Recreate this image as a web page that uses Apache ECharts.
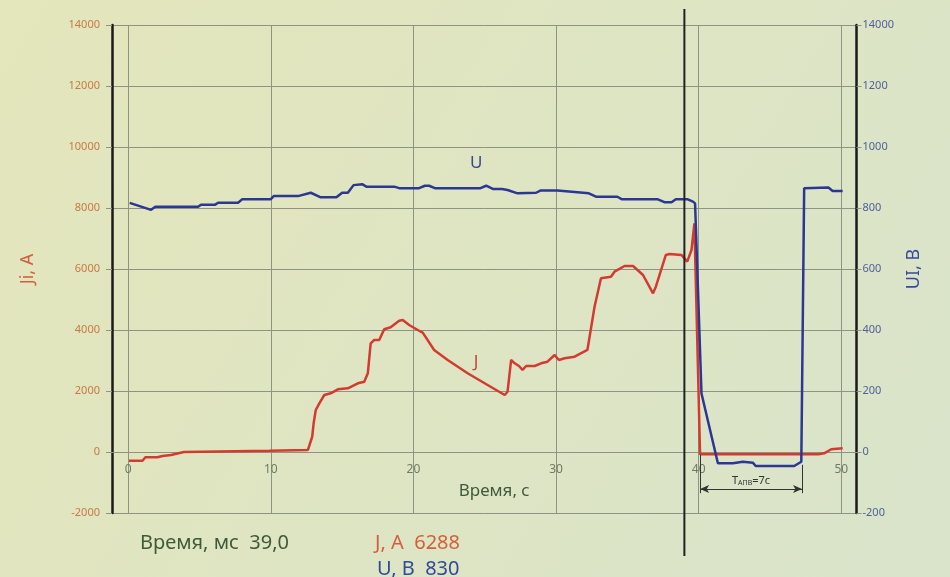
<!DOCTYPE html>
<html><head><meta charset="utf-8">
<script src="https://cdn.jsdelivr.net/npm/echarts@6/dist/echarts.min.js"></script>
<style>html,body{margin:0;padding:0;background:#dfe6c6}#c{width:950px;height:577px}</style>
</head><body><div id="c"></div>
<script>
// ---- data ----
const timeJ = [0.05,1.0,1.2,2.05,2.4,3.0,3.9,4.0,9.9,12.6,12.9,13.0,13.15,13.4,13.75,14.2,14.7,15.4,16.1,16.55,16.8,17.0,17.25,17.6,17.95,18.4,19.0,19.25,19.7,20.3,20.65,21.45,22.4,23.8,25.2,26.4,26.6,26.85,27.1,27.4,27.65,27.9,28.5,28.95,29.4,29.9,30.2,30.6,31.3,32.2,32.7,33.15,33.85,34.1,34.8,35.4,36.1,36.8,37.0,37.7,37.95,38.8,39.2,39.5,39.7,40.1,48.4,48.8,49.3,50.1];
const valuesJ = [-285,-285,-174,-174,-131,-98,0,43,43,66,500,941,1377,1597,1869,1925,2056,2089,2253,2305,2581,3564,3672,3672,4023,4089,4305,4328,4164,4000,3912,3345,3017,2581,2197,1869,1977,3017,2908,2820,2689,2820,2820,2908,2961,3181,3017,3072,3125,3345,4764,5696,5748,5912,6099,6099,5804,5204,5420,6460,6493,6460,6240,6624,7499,-75,-75,-43,89,121];
const timeU = [0.1,1.6,1.9,4.9,5.1,6.1,6.3,7.7,8.0,10.0,10.2,11.9,12.8,13.5,14.6,15.0,15.4,15.8,16.4,16.7,18.65,19.0,20.4,20.8,21.1,21.5,24.7,25.1,25.6,26.2,26.6,27.3,28.6,28.9,30.1,32.3,32.8,34.3,34.6,36.8,36.9,37.1,37.6,38.1,38.4,39.2,39.6,39.75,40.2,41.35,42.4,43.1,43.8,44.0,46.7,47.2,47.4,49.1,49.4,50.1];
const valuesU = [817,794,804,804,811,811,817,817,829,829,839,839,850,835,835,850,850,875,878,870,870,865,865,873,873,865,865,873,862,862,859,848,850,857,857,848,837,837,829,829,835,829,819,819,829,829,821,815,192,-37,-37,-32,-35,-46,-46,-32,865,867,856,856];
const xTicks = [0,10,20,30,40,50];
const leftTickLabels = ['-2000','0','2000','4000','6000','8000','10000','12000','14000'];
const rightTickLabels = ['-200','0','200','400','600','800','1000','1200','14000'];
const cursorTime = 39.0;
const cursorJ = '6288';
const cursorU = '830';
const cursorTimeText = '39,0';
const apvStart = 40.1, apvEnd = 47.25, apvText = '7с';

const dataJ = timeJ.map((t,i)=>[t, valuesJ[i]]);
const dataU = timeU.map((t,i)=>[t, valuesU[i]]);

const jMin = -2000, jMax = 14000;
const gridTop = 25, gridBottom = 64, H = 577;
const gridH = H - gridTop - gridBottom;
const zeroOffset = -gridH * (0 - jMin) / (jMax - jMin); // lift x axis to J = 0

const gridC = '#8d9484';
const FF = 'Noto Sans';
const chart = echarts.init(document.getElementById('c'), null, {renderer:'canvas'});
const option = {
  animation: false,
  backgroundColor: {type:'linear', x:0, y:0, x2:1, y2:1, colorStops:[{offset:0,color:'#e4e6bb'},{offset:1,color:'#d9e4cb'}]},
  grid: {left:112, right:93.5, top:gridTop, bottom:gridBottom, containLabel:false},
  xAxis: {
    type:'value', min:-1.14, max:51.07, offset: zeroOffset,
    axisLine:{show:true, onZero:false, lineStyle:{color:gridC, width:1}},
    axisTick:{show:false, customValues:xTicks},
    axisLabel:{customValues:xTicks, color:'#6f7b62', fontSize:12, margin:12, fontFamily:FF},
    splitLine:{show:true, lineStyle:{color:gridC, width:1}},
    name:'Время, с', nameLocation:'middle', nameGap:31,
    nameTextStyle:{color:'#3f5a3a', fontSize:17, fontFamily:FF, padding:[0,0,0,20]}
  },
  yAxis: [
    {type:'value', min:jMin, max:jMax, interval:2000, position:'left',
     axisLine:{show:true, onZero:false, lineStyle:{color:'#1a1a1a', width:2.5}},
     axisTick:{show:true, length:6, lineStyle:{color:gridC}},
     axisLabel:{color:'#c67a48', fontSize:11, margin:12, fontFamily:FF,
       formatter:(v)=>leftTickLabels[Math.round((v+2000)/2000)]},
     splitLine:{show:true, lineStyle:{color:gridC, width:1}},
     name:'Ji, A', nameLocation:'middle', nameGap:75,
     nameTextStyle:{color:'#d0603a', fontSize:18, fontFamily:FF}},
    {type:'value', min:-200, max:1400, interval:200, position:'right',
     axisLine:{show:true, onZero:false, lineStyle:{color:'#1a1a1a', width:2.5}},
     axisTick:{show:true, length:5, lineStyle:{color:gridC}},
     axisLabel:{color:'#52609a', fontSize:11, margin:6, fontFamily:FF,
       formatter:(v)=>rightTickLabels[Math.round((v+200)/200)]},
     splitLine:{show:false},
     name:'UI, В', nameLocation:'middle', nameGap:46,
     nameTextStyle:{color:'#3a4a9a', fontSize:18, fontFamily:FF}}
  ],
  series: [
    {name:'J', type:'line', yAxisIndex:0, data:dataJ, showSymbol:false, symbol:'none',
     lineStyle:{color:'#d33a30', width:2.5}, z:3,
     markLine:{silent:true, symbol:['none','none'], animation:false, label:{show:false},
       lineStyle:{color:'#333', width:1, type:'solid'},
       data:[
         [{coord:[apvStart,-90]},{coord:[apvStart,-1350]}],
         [{coord:[apvEnd,-420]},{coord:[apvEnd,-1350]}],
         [{coord:[apvStart,-1213], symbol:'arrow', symbolSize:[6,9]},{coord:[apvEnd,-1213], symbol:'arrow', symbolSize:[6,9]}]
       ]}},
    {name:'U', type:'line', yAxisIndex:1, data:dataU, showSymbol:false, symbol:'none',
     lineStyle:{color:'#2c3794', width:2.5}, z:4}
  ]
};
chart.setOption(option);

const cx = chart.convertToPixel({seriesIndex:0}, [cursorTime, 0])[0];
const uLbl = chart.convertToPixel({seriesIndex:1}, [24.4, 948]);
const jLbl = chart.convertToPixel({seriesIndex:0}, [24.4, 2951]);
const tLbl = chart.convertToPixel({seriesIndex:0}, [(apvStart+apvEnd)/2, -930]);
chart.setOption({
  graphic: [
    {type:'line', shape:{x1:cx, y1:9, x2:cx, y2:556}, style:{stroke:'#222', lineWidth:2}, z:10},
    {type:'text', x:uLbl[0], y:uLbl[1], style:{text:'U', fill:'#3a4a8a', font:'17px "Noto Sans"', textAlign:'center', textVerticalAlign:'middle'}},
    {type:'text', x:jLbl[0], y:jLbl[1], style:{text:'J', fill:'#c0453a', font:'17px "Noto Sans"', textAlign:'center', textVerticalAlign:'middle'}},
    {type:'text', x:tLbl[0], y:tLbl[1], style:{
      text:'{a|T}{b|АПВ}{a|=' + apvText + '}',
      rich:{a:{fontSize:11, fill:'#333', fontFamily:FF}, b:{fontSize:7, fill:'#333', fontFamily:FF, padding:[5,0,0,0]}},
      textAlign:'center', textVerticalAlign:'middle'}},
    {type:'text', x:140, y:543, style:{text:'Время, мс  ' + cursorTimeText, fill:'#3f5a3a', font:'20px "Noto Sans"', textVerticalAlign:'middle'}},
    {type:'text', x:375, y:543, style:{text:'J, A  ' + cursorJ, fill:'#d4603a', font:'20px "Noto Sans"', textVerticalAlign:'middle'}},
    {type:'text', x:377, y:569, style:{text:'U, В  ' + cursorU, fill:'#2f4a9a', font:'20px "Noto Sans"', textVerticalAlign:'middle'}}
  ]
});
</script></body></html>
